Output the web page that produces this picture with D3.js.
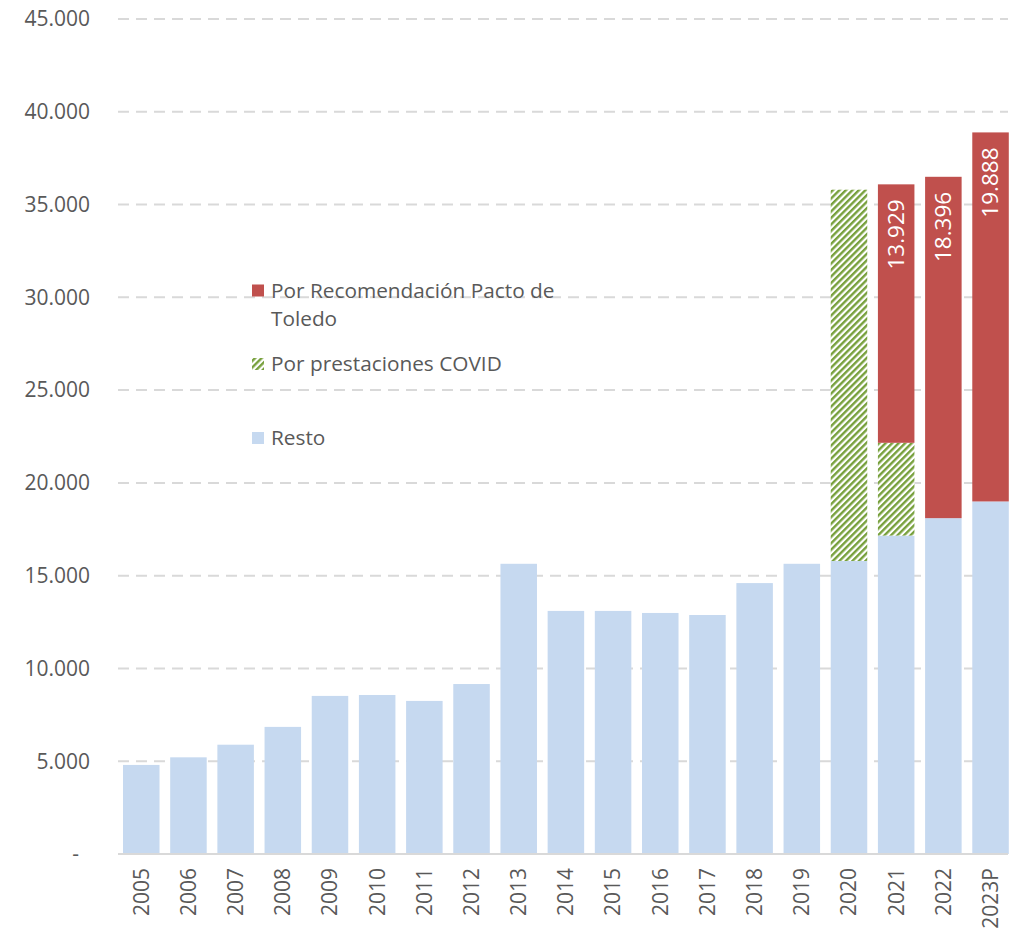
<!DOCTYPE html>
<html>
<head>
<meta charset="utf-8">
<script src="https://cdn.jsdelivr.net/npm/d3@7"></script>
<style>
  html, body { margin: 0; padding: 0; background: #fff; }
  svg { display: block; font-family: "Open Sans", sans-serif; }
</style>
</head>
<body>
<svg id="chart" width="1013" height="936"></svg>
<script>
const years = ["2005","2006","2007","2008","2009","2010","2011","2012","2013","2014","2015","2016","2017","2018","2019","2020","2021","2022","2023P"];
const resto = [4800,5210,5890,6850,8520,8570,8250,9160,15640,13100,13100,12990,12880,14600,15640,15790,17160,18100,19000];
const covid = [0,0,0,0,0,0,0,0,0,0,0,0,0,0,0,20010,5000,0,0];
const pacto = [0,0,0,0,0,0,0,0,0,0,0,0,0,0,0,0,13929,18396,19888];
const pactoLabels = ["","","","","","","","","","","","","","","","","13.929","18.396","19.888"];
const yTicks = [0,5000,10000,15000,20000,25000,30000,35000,40000,45000];
const yTickLabels = ["-","5.000","10.000","15.000","20.000","25.000","30.000","35.000","40.000","45.000"];
const seriesNames = ["Por Recomendación Pacto de Toledo","Por prestaciones COVID","Resto"];

const COL_RESTO = "#c6d9f0", COL_PACTO = "#c0504d", COL_COVID = "#77a03c", TXT = "#595959", GRID = "#d9d9d9";

const svg = d3.select("#chart");
const defs = svg.append("defs");
const pat = defs.append("pattern").attr("id","covidPat").attr("patternUnits","userSpaceOnUse")
  .attr("width",4.6).attr("height",4.6).attr("patternTransform","rotate(45)");
pat.append("rect").attr("width",4.6).attr("height",4.6).attr("fill","#fff");
pat.append("rect").attr("width",2.4).attr("height",4.6).attr("fill",COL_COVID);

const x = d3.scaleBand().domain(years).range([118, 1013.8]).paddingInner(0.226).paddingOuter(0.106);
const y = d3.scaleLinear().domain([0,45000]).range([854,19]);

// gridlines
svg.append("g").selectAll("line").data(yTicks.filter(t => t > 0)).join("line")
  .attr("x1",118).attr("x2",1008).attr("y1",d=>y(d)).attr("y2",d=>y(d))
  .attr("stroke",GRID).attr("stroke-width",2).attr("stroke-dasharray","11,7");

// y labels
svg.append("g").selectAll("text").data(yTicks).join("text")
  .attr("x",(d,i)=> i===0 ? 79 : 90).attr("y",d=>y(d)).attr("dy","0.35em")
  .attr("text-anchor","end").attr("fill",TXT).attr("font-size",21)
  .text((d,i)=>yTickLabels[i]);

// stacked bars
const rows = years.map((yr,i)=>({year:yr, resto:resto[i], covid:covid[i], pacto:pacto[i], label:pactoLabels[i]}));
const stack = d3.stack().keys(["resto","covid","pacto"]);
const layers = stack(rows);
const fills = {resto:COL_RESTO, covid:"url(#covidPat)", pacto:COL_PACTO};
svg.append("g").selectAll("g").data(layers).join("g")
  .attr("fill", d => fills[d.key])
  .selectAll("rect").data(d=>d.filter(s => s[1]-s[0] > 0)).join("rect")
  .attr("x", d=>x(d.data.year)).attr("width", x.bandwidth())
  .attr("y", d=>y(d[1])).attr("height", d=>y(d[0])-y(d[1]));

// baseline
svg.append("line").attr("x1",118).attr("x2",1008).attr("y1",y(0)).attr("y2",y(0))
  .attr("stroke",GRID).attr("stroke-width",2);

// x labels
svg.append("g").selectAll("text").data(years).join("text")
  .attr("transform", d=>`translate(${x(d)+x.bandwidth()/2},868) rotate(-90)`)
  .attr("dy","0.35em").attr("text-anchor","end").attr("fill",TXT).attr("font-size",21)
  .text(d=>d);

// data labels (pacto)
const pactoLayer = layers[2];
svg.append("g").selectAll("text").data(pactoLayer.filter(d=>d.data.label)).join("text")
  .attr("transform", d=>`translate(${x(d.data.year)+x.bandwidth()/2},${y(d[1])+15}) rotate(-90)`)
  .attr("dy","0.35em").attr("text-anchor","end").attr("fill","#fff").attr("font-size",22.5)
  .text(d=>d.data.label);

// legend
const leg = svg.append("g").attr("font-size",20.8).attr("fill",TXT);
leg.append("rect").attr("x",252).attr("y",284.5).attr("width",12).attr("height",12).attr("fill",COL_PACTO);
leg.append("text").attr("x",271).attr("y",298).text("Por Recomendación Pacto de");
leg.append("text").attr("x",271).attr("y",326).text("Toledo");
leg.append("rect").attr("x",252).attr("y",358).attr("width",12).attr("height",12).attr("fill","url(#covidPat)");
leg.append("text").attr("x",271).attr("y",371).text(seriesNames[1]);
leg.append("rect").attr("x",252).attr("y",432).attr("width",12).attr("height",12).attr("fill",COL_RESTO);
leg.append("text").attr("x",271).attr("y",445).text(seriesNames[2]);
</script>
</body>
</html>
